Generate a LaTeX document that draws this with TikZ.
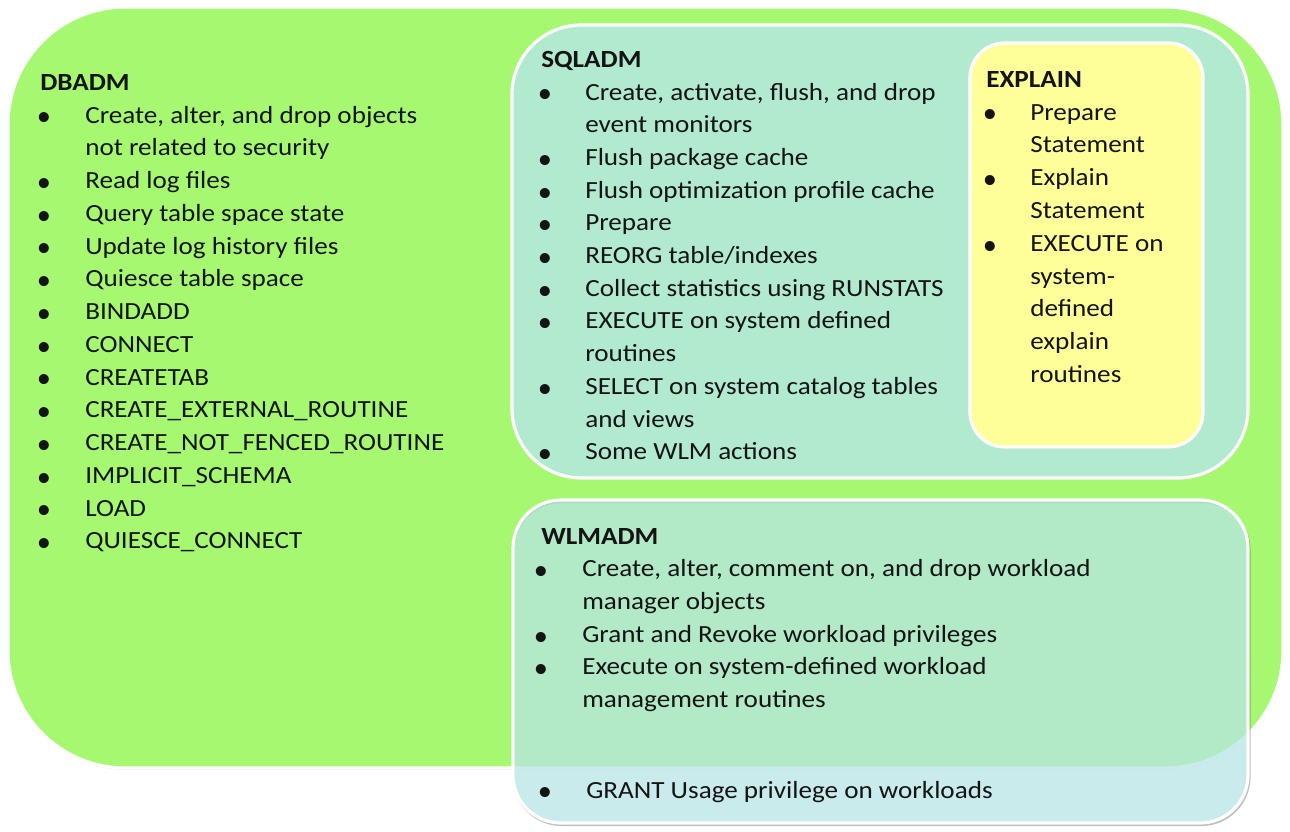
\documentclass[tikz,border=0pt]{standalone}
\usepackage{fontspec}
\setmainfont{Carlito}
\usetikzlibrary{shadows}
\definecolor{dbgreen}{RGB}{166,248,112}
\definecolor{sqlmint}{RGB}{178,234,208}
\definecolor{expyellow}{RGB}{255,255,153}
\definecolor{wlmcyan}{RGB}{183,229,229}
\definecolor{textc}{RGB}{20,20,20}
\newcommand\bitem[5]{\node[bl] (#1b) at (#2,#4-3.5) {•};\node[it] (#1) at (#3,#4) {#5};}
\newcommand\citem[4]{\node[it] (#1) at (#2,#3) {#4};}
\begin{document}
\begin{tikzpicture}[x=0.75pt,y=-0.75pt,
  box/.style={draw=white,line width=2.4pt,drop shadow={shadow xshift=0.5pt,shadow yshift=-1.2pt,opacity=0.35}},
  txt/.style={inner sep=0pt,text=textc,font=\fontsize{18.5}{22}\selectfont},
  hd/.style={txt,font=\fontsize{18.5}{22}\selectfont\bfseries,anchor=base west,xscale=1.1},
  it/.style={txt,anchor=base west,xscale=1.1},
  bl/.style={txt,anchor=center,scale=1.15}]
\useasboundingbox (0,0) rectangle (1290,832);
\fill[white] (0,0) rectangle (1290,832);
% boxes
\draw[box,fill=dbgreen,rounded corners=88pt] (8,7) rectangle (1283,768);
\draw[box,fill=sqlmint,rounded corners=52pt] (512,25) rectangle (1248,478);
\draw[box,fill=expyellow,rounded corners=26pt] (970,43) rectangle (1203,447);
\draw[black,opacity=0.25,line width=1.5pt,rounded corners=36pt] (513.5,502) rectangle (1249.5,825);
\fill[wlmcyan,fill opacity=0.75,rounded corners=36pt] (513,500) rectangle (1248,823);
\draw[white,line width=2.4pt,rounded corners=36pt] (513,500) rectangle (1248,823);
% DBADM
\node[hd] (dh) at (40,90) {DBADM};
\bitem{d0}{44}{85}{123}{Create, alter, and drop objects}
\citem{d1}{85}{155.75}{not related to security}
\bitem{d2}{44}{85}{188.5}{Read log files}
\bitem{d3}{44}{85}{221.25}{Query table space state}
\bitem{d4}{44}{85}{254}{Update log history files}
\bitem{d5}{44}{85}{286.75}{Quiesce table space}
\bitem{d6}{44}{85}{319.5}{BINDADD}
\bitem{d7}{44}{85}{352.25}{CONNECT}
\bitem{d8}{44}{85}{385}{CREATETAB}
\bitem{d9}{44}{85}{417.75}{CREATE\_EXTERNAL\_ROUTINE}
\bitem{d10}{44}{85}{450.5}{CREATE\_NOT\_FENCED\_ROUTINE}
\bitem{d11}{44}{85}{483.25}{IMPLICIT\_SCHEMA}
\bitem{d12}{44}{85}{516}{LOAD}
\bitem{d13}{44}{85}{548.75}{QUIESCE\_CONNECT}
% SQLADM
\node[hd] (sh) at (541,67) {SQLADM};
\bitem{s0}{545}{585}{100}{Create, activate, flush, and drop}
\citem{s1}{585}{132.7}{event monitors}
\bitem{s2}{545}{585}{165.4}{Flush package cache}
\bitem{s3}{545}{585}{198.1}{Flush optimization profile cache}
\bitem{s4}{545}{585}{230.8}{Prepare}
\bitem{s5}{545}{585}{263.5}{REORG table/indexes}
\bitem{s6}{545}{585}{296.2}{Collect statistics using RUNSTATS}
\bitem{s7}{545}{585}{328.9}{EXECUTE on system defined}
\citem{s8}{585}{361.6}{routines}
\bitem{s9}{545}{585}{394.3}{SELECT on system catalog tables}
\citem{s10}{585}{427}{and views}
\bitem{s11}{545}{585}{459.7}{Some WLM actions}
% EXPLAIN
\node[hd] (eh) at (986,87) {EXPLAIN};
\bitem{e0}{990}{1030}{120}{Prepare}
\citem{e1}{1030}{152.8}{Statement}
\bitem{e2}{990}{1030}{185.6}{Explain}
\citem{e3}{1030}{218.4}{Statement}
\bitem{e4}{990}{1030}{251.2}{EXECUTE on}
\citem{e5}{1030}{284}{system-}
\citem{e6}{1030}{316.8}{defined}
\citem{e7}{1030}{349.6}{explain}
\citem{e8}{1030}{382.4}{routines}
% WLMADM
\node[hd] (wh) at (541,544) {WLMADM};
\bitem{w0}{541}{582}{576.5}{Create, alter, comment on, and drop workload}
\citem{w1}{582}{609.3}{manager objects}
\bitem{w2}{541}{582}{642.1}{Grant and Revoke workload privileges}
\bitem{w3}{541}{582}{674.9}{Execute on system-defined workload}
\citem{w4}{582}{707.7}{management routines}
\bitem{w5}{545}{586}{798}{GRANT Usage privilege on workloads}
\end{tikzpicture}
\end{document}
